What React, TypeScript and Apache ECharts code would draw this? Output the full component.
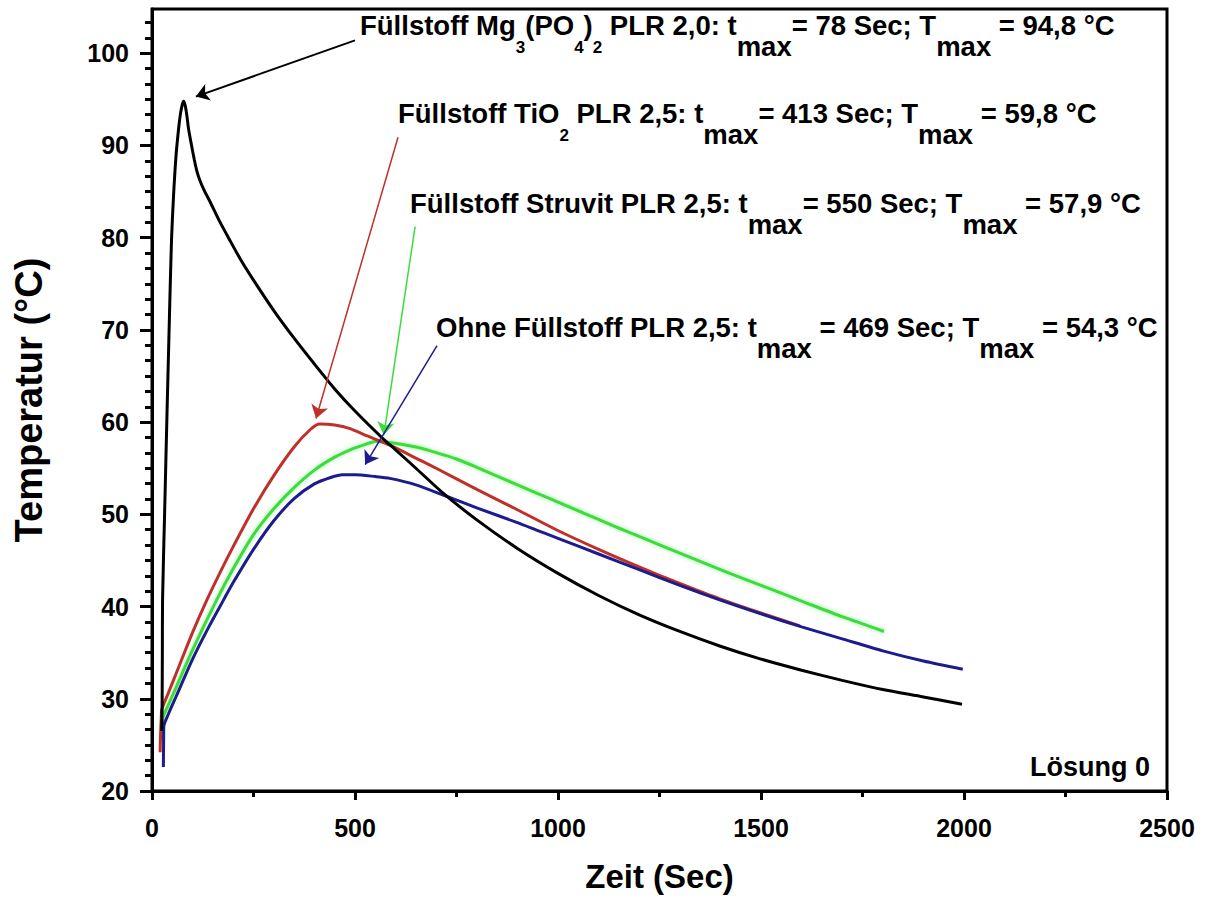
import React, { useEffect, useRef } from 'react';
import * as echarts from 'echarts';

const FONT = 'Liberation Sans, Arial, Helvetica, sans-serif';

// Füllstoff Mg3(PO4)2 PLR 2,0 (black)
const tMg = [24, 25, 25.5, 26, 31, 37, 43, 48, 53, 59, 65, 70, 75, 78, 82, 86, 90, 97, 104, 110, 118, 130, 143, 165, 192, 220, 250, 300, 350, 400, 450, 500, 569, 600, 650, 717, 800, 900, 1000, 1100, 1200, 1300, 1400, 1500, 1600, 1700, 1800, 1900, 1995];
const yMg = [26.5, 30, 35, 40.7, 50, 61, 71.5, 79.7, 84.5, 88.8, 91.6, 93.4, 94.5, 94.8, 94.3, 93.2, 91.8, 90.1, 88.5, 87.3, 86.2, 85, 83.9, 81.9, 79.7, 77.5, 75.4, 72.1, 69.1, 66.3, 63.6, 61.2, 58.2, 57.0, 55.0, 52.3, 49.4, 46.3, 43.6, 41.2, 39.1, 37.3, 35.7, 34.3, 33.1, 32.0, 31.0, 30.2, 29.4];

// Füllstoff TiO2 PLR 2,5 (red)
const tTi = [20, 21, 23, 24, 40, 60, 100, 135, 170, 200, 250, 300, 350, 390, 413, 450, 488, 530, 586, 650, 700, 800, 900, 997, 1100, 1200, 1300, 1400, 1500, 1596];
const yTi = [24.2, 26, 28, 28.8, 30.6, 32.8, 37.2, 40.7, 43.9, 46.5, 50.6, 54.2, 57.3, 59.2, 59.8, 59.7, 59.3, 58.5, 57.5, 56.1, 55.0, 52.7, 50.5, 48.3, 46.2, 44.3, 42.5, 40.8, 39.3, 37.9];

// Füllstoff Struvit PLR 2,5 (green)
const tSt = [26, 27, 40, 60, 100, 159, 200, 250, 300, 350, 400, 450, 488, 520, 550, 586, 650, 700, 750, 800, 900, 980, 1060, 1145, 1200, 1300, 1400, 1500, 1600, 1700, 1803];
const ySt = [25.5, 27.9, 29.3, 31.3, 35.3, 40.7, 44.1, 47.8, 50.6, 52.9, 54.8, 56.2, 57.0, 57.5, 57.9, 57.8, 57.3, 56.7, 56.0, 55.1, 53.2, 51.7, 50.2, 48.6, 47.6, 45.8, 44.0, 42.3, 40.6, 38.9, 37.3];

// Ohne Füllstoff PLR 2,5 (blue)
const tOh = [28, 28.5, 29, 40, 60, 100, 140, 176, 200, 250, 300, 350, 400, 440, 469, 500, 550, 586, 650, 717, 800, 900, 947, 1000, 1100, 1200, 1300, 1400, 1500, 1600, 1700, 1800, 1900, 1997];
const yOh = [22.6, 25, 27, 28.3, 30.3, 34.3, 37.8, 40.7, 42.6, 46.2, 49.3, 51.7, 53.3, 54.0, 54.3, 54.3, 54.1, 53.9, 53.2, 52.1, 50.7, 49.1, 48.3, 47.4, 45.7, 44.0, 42.3, 40.7, 39.2, 37.8, 36.5, 35.2, 34.1, 33.2];

const yMajorTicks = [20, 30, 40, 50, 60, 70, 80, 90, 100];
const xTickInterval = 500;

// annotation arrows (data coordinates): tail -> head
const arrowColors = ['#000000', '#c0302a', '#3cdc3c', '#1c1c8c'];
const arrowFrom = [[500, 101.4], [606, 90.9], [648, 81.2], [702, 68.3]];
const arrowTo = [[108, 95.3], [404, 60.4], [571, 58.6], [525, 55.4]];

const annotationLines = [
  '{a|Füllstoff Mg}{s|3}{a|(PO}{s|4}{p|)}{s|2}{a| PLR 2,0: t}{m|max}{a|= 78 Sec; T}{m|max}{a| = 94,8 °C}',
  '{a|Füllstoff TiO}{s|2}{a| PLR 2,5: t}{m|max}{a|= 413 Sec; T}{m|max}{a| = 59,8 °C}',
  '{a|Füllstoff Struvit PLR 2,5: t}{m|max}{a|= 550 Sec; T}{m|max}{a| = 57,9 °C}',
  '{a|Ohne Füllstoff PLR 2,5: t}{m|max}{a| = 469 Sec; T}{m|max}{a| = 54,3 °C}',
];

const zip = (t: number[], y: number[]) => t.map((v, i) => [v, y[i]]);

export default function App() {
  const ref = useRef<HTMLDivElement>(null);
  useEffect(() => {
    const chart = echarts.init(ref.current!, null, { renderer: 'svg' });
    const minorTicks: number[] = [];
    yMajorTicks.forEach((m) => {
      for (let k = 1; k <= 5; k++) {
        const v = m + (k * 10) / 6;
        if (v < 104.8) minorTicks.push(v);
      }
    });
    const FS = 27.5;
    const rich = {
      a: { fontSize: FS, fontWeight: 'bold', fontFamily: FONT, color: '#000', lineHeight: 30, padding: [0, 0, 24, 0] },
      p: { fontSize: FS, fontWeight: 'bold', fontFamily: FONT, color: '#000', lineHeight: 30, padding: [0, 0, 24, 0] },
      m: { fontSize: FS, fontWeight: 'bold', fontFamily: FONT, color: '#000', lineHeight: 30, padding: [21, 0, 3, 0] },
      s: { fontSize: 17, fontWeight: 'bold', fontFamily: FONT, color: '#000', lineHeight: 30, padding: [22, 0, 2, 0] },
    };
    const textPos = [[360, 22], [398, 110], [410, 200], [436, 324]];
    const lineStyleBase = { width: 3 };
    const option: any = {
      animation: false,
      backgroundColor: '#fff',
      grid: { left: 152, right: 40, top: 9, bottom: 110, show: true, borderColor: '#000', borderWidth: 3, backgroundColor: 'transparent' },
      xAxis: {
        type: 'value', min: 0, max: 2500, interval: xTickInterval,
        name: 'Zeit (Sec)', nameLocation: 'middle', nameGap: 69,
        nameTextStyle: { fontSize: 33, fontWeight: 'bold', fontFamily: FONT, color: '#000' },
        axisLine: { show: true, lineStyle: { color: '#000', width: 3 } },
        axisTick: { show: true, inside: false, length: 9, lineStyle: { color: '#000', width: 3 } },
        minorTick: { show: true, splitNumber: 2, length: 6, lineStyle: { color: '#000', width: 3 } },
        axisLabel: { fontSize: 25, fontWeight: 'bold', fontFamily: FONT, color: '#000', margin: 24, formatter: (v: number) => String(v) },
        splitLine: { show: false },
      },
      yAxis: [
        {
          type: 'value', min: 20, max: 104.8, interval: 10,
          name: 'Temperatur (°C)', nameLocation: 'middle', nameGap: 104,
          nameTextStyle: { fontSize: 38, fontWeight: 'bold', fontFamily: FONT, color: '#000' },
          axisLine: { show: true, lineStyle: { color: '#000', width: 3 } },
          axisTick: { show: true, inside: false, length: 12, customValues: yMajorTicks, lineStyle: { color: '#000', width: 3 } },
          axisLabel: { fontSize: 25, fontWeight: 'bold', fontFamily: FONT, color: '#000', margin: 23, customValues: yMajorTicks, formatter: (v: number) => String(v) },
          splitLine: { show: false },
        },
        {
          type: 'value', min: 20, max: 104.8, position: 'left',
          axisLine: { show: false },
          axisTick: { show: true, inside: false, length: 7, customValues: minorTicks, lineStyle: { color: '#000', width: 3 } },
          axisLabel: { show: false },
          splitLine: { show: false },
        },
      ],
      series: [
        {
          type: 'line', name: 'Struvit', data: zip(tSt, ySt), showSymbol: false, smooth: 0.25,
          lineStyle: { ...lineStyleBase, color: '#3cdc3c', shadowColor: 'rgba(60,220,60,0.5)', shadowBlur: 4 },
          itemStyle: { color: '#3cdc3c' },
        },
        {
          type: 'line', name: 'TiO2', data: zip(tTi, yTi), showSymbol: false, smooth: 0.25,
          lineStyle: { ...lineStyleBase, color: '#c0302a' }, itemStyle: { color: '#c0302a' },
        },
        {
          type: 'line', name: 'Ohne', data: zip(tOh, yOh), showSymbol: false, smooth: 0.25,
          lineStyle: { ...lineStyleBase, color: '#1c1c8c' }, itemStyle: { color: '#1c1c8c' },
        },
        {
          type: 'line', name: 'Mg3(PO4)2', data: zip(tMg, yMg), showSymbol: false, smooth: 0.25,
          lineStyle: { ...lineStyleBase, color: '#000' }, itemStyle: { color: '#000' },
          markLine: {
            silent: true, symbol: ['none', 'arrow'], symbolSize: 13,
            label: { show: false },
            data: arrowFrom.map((f, i) => [
              { coord: f, lineStyle: { color: arrowColors[i], width: i === 0 ? 2 : 1.5, type: 'solid' }, itemStyle: { color: arrowColors[i] } },
              { coord: arrowTo[i] },
            ]),
          },
        },
      ],
      graphic: [
        ...annotationLines.map((txt, i) => ({
          type: 'text', x: textPos[i][0], y: textPos[i][1], silent: true,
          style: { text: txt, rich, align: 'left', verticalAlign: 'top', fontFamily: FONT },
        })),
        {
          type: 'text', x: 1150, y: 767, silent: true,
          style: { text: 'Lösung 0', fontSize: 27, fontWeight: 'bold', fontFamily: FONT, fill: '#000', align: 'right', verticalAlign: 'middle' },
        },
      ],
    };
    chart.setOption(option);
    return () => chart.dispose();
  }, []);
  return <div ref={ref} style={{ position: 'fixed', left: 0, top: 0, width: 1207, height: 901 }} />;
}
